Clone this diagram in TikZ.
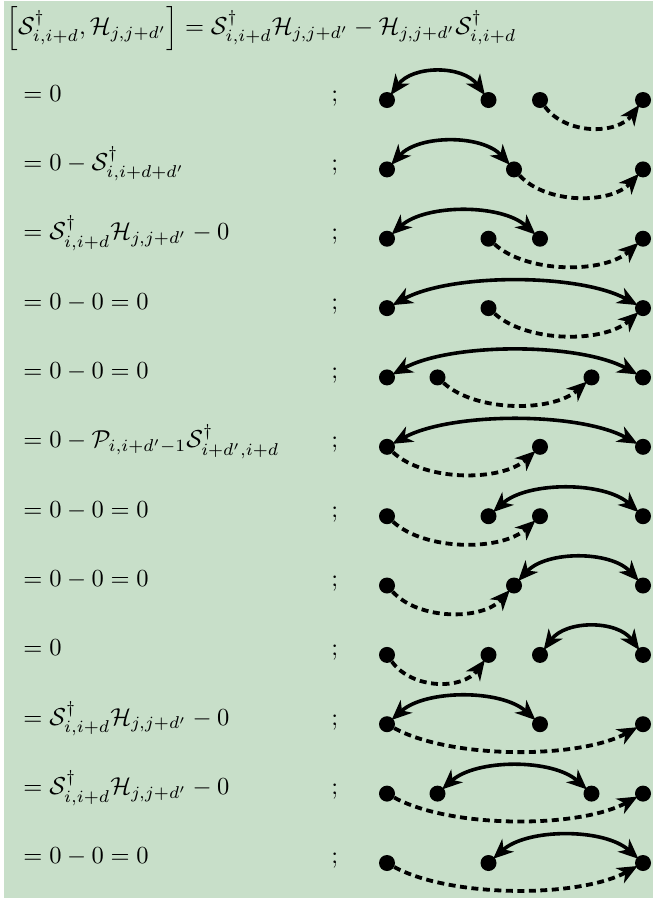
\documentclass[tikz,border=0pt]{standalone}
\usepackage{amsmath}
\usetikzlibrary{calc,arrows.meta}
\definecolor{bggreen}{RGB}{200,223,201}
\tikzset{
  dot/.style={circle,fill=black,inner sep=0pt,minimum size=16pt},
  tipS/.tip={Stealth[length=20pt 0,width=17pt 0,inset=6pt]},
  sarc/.style={line width=3.6pt,shorten <=-2pt,shorten >=-2pt,tipS-tipS},
  darc/.style={line width=3.8pt,shorten >=-2pt,dash pattern=on 7pt off 4.5pt,-tipS},
  eq/.style={anchor=base west,scale=2.45,inner sep=0pt}
}
\newcommand\myup[2]{\draw[sarc] (#1) .. controls ($(#1)!0.25!(#2)+(0,-35)$) and ($(#1)!0.75!(#2)+(0,-35)$) .. (#2);}
\newcommand\mydown[2]{\draw[darc] (#1) .. controls ($(#1)!0.25!(#2)+(0,35)$) and ($(#1)!0.75!(#2)+(0,35)$) .. (#2);}
\begin{document}
\begin{tikzpicture}[x=1pt,y=-1pt]
\useasboundingbox (0,0) rectangle (653,898);
\fill[bggreen] (4,1) rectangle (653,898);
% x positions
\def\xA{387}\def\xB{437.5}\def\xC{488.5}\def\xD{514}\def\xE{540}\def\xF{591.5}\def\xG{643}
% header
\node[eq] (hdr) at (6,34.5) {$\left[\mathcal{S}^\dagger_{i,i+d},\mathcal{H}_{j,j+d'}\right]=\mathcal{S}^\dagger_{i,i+d}\mathcal{H}_{j,j+d'}-\mathcal{H}_{j,j+d'}\mathcal{S}^\dagger_{i,i+d}$};
% row texts
\foreach \k/\t in {1/{=0},2/{=0-\mathcal{S}^\dagger_{i,i+d+d'}},3/{=\mathcal{S}^\dagger_{i,i+d}\mathcal{H}_{j,j+d'}-0},4/{=0-0=0},5/{=0-0=0},6/{=0-\mathcal{P}_{i,i+d'-1}\mathcal{S}^\dagger_{i+d',i+d}},7/{=0-0=0},8/{=0-0=0},9/{=0},10/{=\mathcal{S}^\dagger_{i,i+d}\mathcal{H}_{j,j+d'}-0},11/{=\mathcal{S}^\dagger_{i,i+d}\mathcal{H}_{j,j+d'}-0},12/{=0-0=0}}{
  \pgfmathsetmacro\yy{100+69.36*(\k-1)+1}
  \node[eq] (t\k) at (23,\yy) {$\t$};
  \node[eq] (s\k) at (331,\yy) {$;$};
}
% row 1
\node[dot] (a1) at (\xA,100) {}; \node[dot] (b1) at (\xC,100) {};
\node[dot] (c1) at (\xE,100) {}; \node[dot] (d1) at (\xG,100) {};
% row 2
\node[dot] (a2) at (\xA,169.4) {}; \node[dot] (b2) at (\xD,169.4) {}; \node[dot] (d2) at (\xG,169.4) {};
% row 3
\node[dot] (a3) at (\xA,238.7) {}; \node[dot] (b3) at (\xC,238.7) {}; \node[dot] (c3) at (\xE,238.7) {}; \node[dot] (d3) at (\xG,238.7) {};
% row 4
\node[dot] (a4) at (\xA,308.1) {}; \node[dot] (b4) at (\xC,308.1) {}; \node[dot] (d4) at (\xG,308.1) {};
% row 5
\node[dot] (a5) at (\xA,377.4) {}; \node[dot] (b5) at (\xB,377.4) {}; \node[dot] (c5) at (\xF,377.4) {}; \node[dot] (d5) at (\xG,377.4) {};
% row 6
\node[dot] (a6) at (\xA,446.8) {}; \node[dot] (c6) at (\xE,446.8) {}; \node[dot] (d6) at (\xG,446.8) {};
% row 7
\node[dot] (a7) at (\xA,516.2) {}; \node[dot] (b7) at (\xC,516.2) {}; \node[dot] (c7) at (\xE,516.2) {}; \node[dot] (d7) at (\xG,516.2) {};
% row 8
\node[dot] (a8) at (\xA,585.5) {}; \node[dot] (b8) at (\xD,585.5) {}; \node[dot] (d8) at (\xG,585.5) {};
% row 9
\node[dot] (a9) at (\xA,654.9) {}; \node[dot] (b9) at (\xC,654.9) {}; \node[dot] (c9) at (\xE,654.9) {}; \node[dot] (d9) at (\xG,654.9) {};
% row 10
\node[dot] (a10) at (\xA,724.2) {}; \node[dot] (c10) at (\xE,724.2) {}; \node[dot] (d10) at (\xG,724.2) {};
% row 11
\node[dot] (a11) at (\xA,793.6) {}; \node[dot] (b11) at (\xB,793.6) {}; \node[dot] (c11) at (\xF,793.6) {}; \node[dot] (d11) at (\xG,793.6) {};
% row 12
\node[dot] (a12) at (\xA,863) {}; \node[dot] (b12) at (\xC,863) {}; \node[dot] (d12) at (\xG,863) {};
% arcs
\myup{a1}{b1} \mydown{c1}{d1}
\myup{a2}{b2} \mydown{b2}{d2}
\myup{a3}{c3} \mydown{b3}{d3}
\myup{a4}{d4} \mydown{b4}{d4}
\myup{a5}{d5} \mydown{b5}{c5}
\myup{a6}{d6} \mydown{a6}{c6}
\myup{b7}{d7} \mydown{a7}{c7}
\myup{b8}{d8} \mydown{a8}{b8}
\myup{c9}{d9} \mydown{a9}{b9}
\myup{a10}{c10} \mydown{a10}{d10}
\myup{b11}{c11} \mydown{a11}{d11}
\myup{b12}{d12} \mydown{a12}{d12}
\end{tikzpicture}
\end{document}
